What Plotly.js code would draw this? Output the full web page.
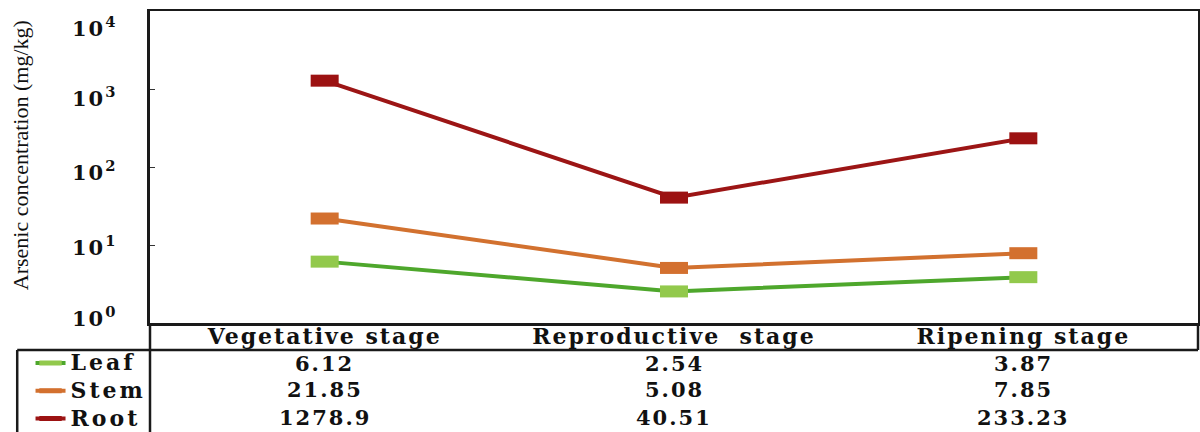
<!DOCTYPE html>
<html>
<head>
<meta charset="utf-8">
<script src="https://cdn.plot.ly/plotly-3.0.1.min.js"></script>
<style>
  html, body { margin: 0; padding: 0; background: #fff; }
  #chart { width: 1200px; height: 432px; }
  /* wide, spaced bold serif lettering for the table and ticks */
  .xtick text { letter-spacing: 2px; }
  .annotation-text.wide { letter-spacing: 2px; }
  .legendtext { letter-spacing: 3px; font-size: 22px !important; }
</style>
</head>
<body>
<div id="chart"></div>
<script>
// Growth stages (x categories)
const stages = ['Vegetative stage', 'Reproductive  stage', 'Ripening stage'];

// Arsenic concentration (mg/kg) per plant part
const leaf = [6.12, 2.54, 3.87];
const stem = [21.85, 5.08, 7.85];
const root = [1278.9, 40.51, 233.23];

// Log-axis ticks
const yTickVals = [1, 10, 100, 1000, 10000];
const yTickText = ['10<sup>0</sup>', '10<sup>1</sup>', '10<sup>2</sup>', '10<sup>3</sup>', '10<sup>4</sup>'];

const seriesNames = ['Leaf', 'Stem', 'Root'];
const seriesData = [leaf, stem, root];
const lineColors = ['#4ea72c', '#d2712f', '#9c1515'];
const markerColors = ['#92c94c', '#d3702f', '#9c1212'];

const boldFont = { family: 'DejaVu Serif', size: 21, color: '#111', weight: 'bold' };
const headerFont = { family: 'DejaVu Serif', size: 22, color: '#111', weight: 'bold' };

// Rectangular markers: a horizontal line symbol with a thick stroke
const traces = seriesData.map((vals, i) => ({
  type: 'scatter',
  mode: 'lines+markers',
  name: seriesNames[i],
  x: stages,
  y: vals,
  line: { color: lineColors[i], width: 4 },
  marker: {
    symbol: 'line-ew',
    size: 20,
    color: markerColors[i],
    line: { color: markerColors[i], width: 12 }
  },
  hoverinfo: 'x+y+name'
}));

// Data table rows below the plot
const rowY = [-0.1314, -0.2147, -0.3013];
const annotations = [];
seriesData.forEach((vals, r) => {
  vals.forEach((v, c) => {
    annotations.push({
      xref: 'x', yref: 'paper',
      x: stages[c], y: rowY[r],
      text: String(v),
      showarrow: false,
      xanchor: 'center', yanchor: 'middle',
      font: boldFont
    });
  });
});

// Decade labels beside the log axis, set slightly apart from their tick marks
const decadeLabelY = [0.0192, 0.2468, 0.4872, 0.7244, 0.9487];
yTickText.forEach((t, i) => {
  annotations.push({
    xref: 'paper', yref: 'paper',
    x: -0.032, y: decadeLabelY[i],
    text: t,
    showarrow: false,
    xanchor: 'right', yanchor: 'middle',
    font: boldFont
  });
});

// Y-axis title
annotations.push({
  xref: 'paper', yref: 'paper',
  x: -0.124, y: 0.538,
  text: 'Arsenic concentration (mg/kg)',
  textangle: -90,
  showarrow: false,
  xanchor: 'center', yanchor: 'middle',
  font: { family: 'Liberation Serif', size: 22, color: '#111' }
});

// Table grid lines
const gridLine = { color: '#1a1a1a', width: 2.5 };
const shapes = [
  { type: 'line', xref: 'paper', yref: 'paper', x0: -0.1267, x1: 1, y0: -0.0865, y1: -0.0865, line: gridLine },
  { type: 'line', xref: 'paper', yref: 'paper', x0: 0, x1: 0, y0: 0, y1: -0.36, line: gridLine },
  { type: 'line', xref: 'paper', yref: 'paper', x0: -0.1267, x1: -0.1267, y0: -0.0865, y1: -0.36, line: gridLine },
  { type: 'line', xref: 'paper', yref: 'paper', x0: 1, x1: 1, y0: 0, y1: -0.0865, line: gridLine }
];

const layout = {
  width: 1200,
  height: 432,
  margin: { l: 150, r: 2, t: 11, b: 109, autoexpand: false },
  paper_bgcolor: '#ffffff',
  plot_bgcolor: '#ffffff',
  showlegend: true,
  legend: {
    x: -0.114, xanchor: 'left',
    y: -0.0678, yanchor: 'top',
    bgcolor: 'rgba(0,0,0,0)',
    font: { family: 'DejaVu Serif', size: 19, color: '#111', weight: 'bold' },
    tracegroupgap: 0,
    itemwidth: 30
  },
  xaxis: {
    type: 'category',
    range: [-0.5, 2.5],
    showgrid: false,
    zeroline: false,
    showline: true,
    mirror: true,
    linecolor: '#1a1a1a',
    linewidth: 2.5,
    ticks: '',
    ticklabelstandoff: -8,
    tickfont: headerFont,
    fixedrange: true
  },
  yaxis: {
    type: 'log',
    range: [0, 4],
    tickvals: yTickVals,
    showticklabels: false,
    showgrid: false,
    zeroline: false,
    showline: true,
    mirror: true,
    linecolor: '#1a1a1a',
    linewidth: 3,
    ticks: 'inside',
    ticklen: 5,
    tickcolor: '#333',
    fixedrange: true
  },
  annotations: annotations,
  shapes: shapes
};

Plotly.newPlot('chart', traces, layout, { displayModeBar: false, staticPlot: true }).then(gd => {
  gd.querySelectorAll('.annotation-text').forEach(t => {
    if (!/Arsenic/.test(t.textContent)) t.classList.add('wide');
  });
});
</script>
</body>
</html>
